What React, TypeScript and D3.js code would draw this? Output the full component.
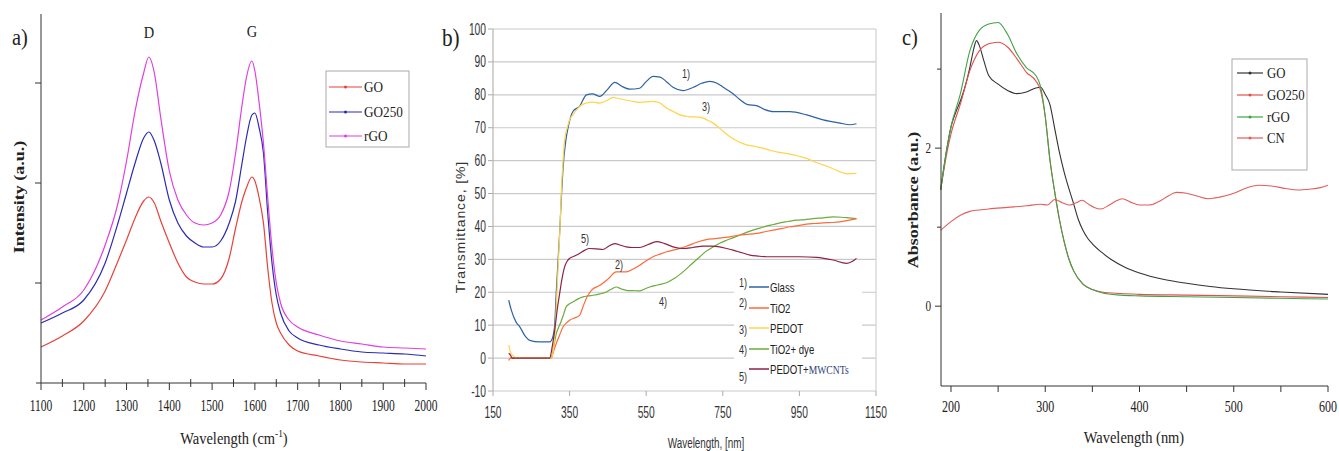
import React from 'react';
import * as d3 from 'd3';

const SERIF = '"Liberation Serif", "Times New Roman", serif';
const SANS = '"Liberation Sans", Arial, sans-serif';

// a) Raman spectra
const ramanShift = [1100, 1150, 1200, 1250, 1280, 1300, 1320, 1340, 1352, 1365, 1380, 1400, 1420, 1440, 1460, 1480, 1500, 1520, 1540, 1555, 1570, 1580, 1593, 1600, 1610, 1620, 1630, 1640, 1650, 1660, 1680, 1700, 1750, 1800, 1850, 1900, 1950, 2000];
const ramanGO = [0.36, 0.47, 0.62, 0.92, 1.22, 1.43, 1.65, 1.82, 1.86, 1.8, 1.62, 1.4, 1.2, 1.06, 1.01, 0.99, 0.99, 1.04, 1.25, 1.55, 1.82, 1.95, 2.06, 2.02, 1.85, 1.6, 1.15, 0.8, 0.6, 0.5, 0.38, 0.32, 0.27, 0.23, 0.21, 0.2, 0.19, 0.19];
const ramanGO250 = [0.6, 0.7, 0.83, 1.2, 1.6, 1.9, 2.2, 2.45, 2.51, 2.42, 2.2, 1.83, 1.6, 1.47, 1.4, 1.36, 1.36, 1.42, 1.6, 1.82, 2.2, 2.45, 2.68, 2.7, 2.55, 2.3, 1.7, 1.2, 0.88, 0.7, 0.52, 0.45, 0.38, 0.34, 0.31, 0.3, 0.29, 0.27];
const ramanRGO = [0.63, 0.76, 0.93, 1.38, 1.8, 2.22, 2.72, 3.1, 3.26, 3.1, 2.65, 2.12, 1.83, 1.68, 1.6, 1.58, 1.6, 1.68, 1.92, 2.3, 2.78, 3.05, 3.22, 3.12, 2.8, 2.4, 1.85, 1.35, 1.0, 0.8, 0.63, 0.56, 0.48, 0.42, 0.39, 0.36, 0.35, 0.34];
const ramanNames = ['GO', 'GO250', 'rGO'];
const ramanColors = ['#e6423a', '#2b2bb5', '#e03fe0'];

// b) transmittance
const glassX = [191, 198, 210, 220, 235, 246, 272, 298, 305, 311, 315, 320, 324, 329, 333, 340, 346, 352, 359, 376, 394, 410, 429, 448, 468, 488, 507, 533, 550, 568, 586, 603, 620, 646, 673, 695, 716, 735, 751, 775, 795, 815, 838, 860, 882, 925, 969, 1012, 1056, 1082, 1099];
const glassY = [17.6, 14.5, 11, 9.5, 6.5, 5.4, 4.9, 4.9, 6, 10, 19.6, 30, 38, 50, 58, 66, 70, 73, 75, 76.5, 80, 80.3, 79.5, 81.5, 83.8, 82.5, 81.7, 82, 84, 85.6, 85.4, 84, 82.3, 81.3, 82.3, 83.5, 84.1, 83.5, 82.3, 80.5, 78.5, 77, 76.7, 75.5, 74.9, 74.9, 73.9, 72.4, 71.4, 70.9, 71.2];
const tio2X = [191, 195, 302, 308, 315, 324, 333, 342, 350, 365, 376, 385, 395, 407, 429, 450, 472, 498, 515, 533, 550, 568, 586, 603, 620, 638, 655, 673, 690, 707, 730, 751, 775, 795, 815, 838, 860, 882, 905, 925, 950, 969, 990, 1012, 1035, 1056, 1080, 1099];
const tio2Y = [-0.7, 0, 0, 2, 4.4, 7, 9.5, 10.7, 11.5, 12.3, 13, 15.6, 18.5, 20.6, 22.1, 24, 26.2, 26.2, 27, 28.2, 29.6, 30.8, 31.6, 32.3, 32.8, 33.3, 34, 34.8, 35.5, 36, 36.3, 36.6, 37, 37.4, 37.6, 37.9, 38.4, 38.9, 39.4, 39.9, 40.3, 40.7, 40.9, 41.1, 41.2, 41.4, 41.9, 42.4];
const pedotX = [191, 195, 200, 205, 211, 302, 307, 311, 315, 320, 325, 329, 333, 337, 344, 350, 359, 368, 376, 394, 410, 429, 446, 464, 480, 507, 533, 568, 586, 603, 620, 638, 660, 690, 710, 725, 750, 768, 790, 812, 835, 855, 877, 899, 925, 950, 969, 990, 1012, 1035, 1056, 1075, 1099];
const pedotY = [4, 2, 1, 0.5, 0, 0, 2, 6.4, 15, 27.7, 40, 52, 60, 66.3, 70, 72.4, 74, 75.4, 76.5, 77.5, 77.8, 77.5, 78.2, 79.2, 78.8, 78.2, 77.7, 78, 77.5, 76, 75, 73.9, 73.4, 73.2, 72.3, 71.4, 69, 67.3, 65.8, 64.8, 64.3, 63.8, 63, 62.5, 62, 61.3, 60.7, 59.6, 58.7, 57.7, 56.6, 56, 56.1];
const dyeX = [195, 302, 308, 315, 322, 329, 335, 341, 350, 359, 372, 385, 398, 411, 429, 446, 460, 472, 485, 498, 515, 533, 546, 559, 580, 603, 625, 646, 668, 690, 707, 725, 742, 760, 778, 795, 812, 829, 847, 864, 882, 899, 920, 942, 965, 986, 1012, 1038, 1060, 1080, 1099];
const dyeY = [0, 0, 3, 7.4, 9.5, 11.5, 13.5, 15.6, 16.5, 17.1, 18, 18.6, 18.9, 19.1, 19.5, 20.1, 21, 21.6, 21, 20.6, 20.5, 20.4, 21, 21.6, 22.2, 22.9, 24.3, 26.2, 28.5, 30.8, 32.5, 33.8, 34.9, 35.8, 36.6, 37.4, 38.2, 38.9, 39.5, 40.1, 40.6, 41.1, 41.5, 41.9, 42.1, 42.4, 42.6, 42.9, 42.8, 42.6, 42.4];
const mwcntX = [191, 196, 200, 298, 304, 311, 318, 324, 330, 337, 344, 350, 363, 376, 390, 402, 420, 437, 452, 468, 483, 498, 515, 533, 555, 577, 598, 620, 646, 672, 699, 720, 742, 760, 777, 800, 821, 842, 864, 908, 951, 995, 1038, 1073, 1090, 1099];
const mwcntY = [1.5, 0.8, 0, 0, 3, 8.4, 15, 19.6, 24, 27.7, 29.5, 30.3, 31, 31.8, 32.8, 33.3, 33.2, 33, 34, 34.8, 34.3, 33.8, 33.6, 33.6, 34.5, 35.4, 34.8, 33.8, 33.3, 33.6, 34, 34, 33.8, 33.3, 32.8, 32, 31.3, 31, 30.8, 30.8, 30.8, 30.6, 29.8, 28.8, 29.5, 30.3];
const transNames = ['Glass', 'TiO2', 'PEDOT', 'TiO2+ dye', 'PEDOT+MWCNTs'];
const transColors = ['#2d62a6', '#ff6a3a', '#ffd44a', '#6cab3c', '#8c2344'];

// c) UV-vis absorbance
const goX = [189, 195, 200, 205, 210, 215, 220, 224, 227, 230, 235, 240, 250, 260, 270, 280, 290, 295, 300, 305, 310, 315, 320, 330, 335, 340, 345, 350, 360, 370, 385, 400, 425, 450, 475, 500, 550, 600];
const goY = [1.47, 1.95, 2.27, 2.45, 2.6, 2.78, 3.02, 3.25, 3.36, 3.3, 3.1, 2.92, 2.81, 2.73, 2.69, 2.71, 2.76, 2.77, 2.68, 2.55, 2.25, 1.95, 1.7, 1.3, 1.1, 0.96, 0.86, 0.79, 0.68, 0.59, 0.49, 0.42, 0.34, 0.29, 0.25, 0.22, 0.18, 0.15];
const redX = [189, 195, 200, 210, 220, 230, 240, 250, 260, 270, 280, 290, 295, 300, 305, 310, 315, 320, 325, 330, 340, 350, 360, 380, 400, 450, 500, 550, 600];
const go250Y = [1.47, 1.9, 2.18, 2.56, 2.98, 3.23, 3.32, 3.34, 3.28, 3.13, 2.96, 2.85, 2.73, 2.4, 1.85, 1.45, 1.1, 0.82, 0.6, 0.45, 0.28, 0.21, 0.18, 0.16, 0.15, 0.14, 0.13, 0.12, 0.11];
const rgoY = [1.47, 1.95, 2.27, 2.69, 3.23, 3.49, 3.57, 3.59, 3.44, 3.19, 3.02, 2.92, 2.78, 2.4, 1.85, 1.45, 1.1, 0.82, 0.6, 0.45, 0.28, 0.21, 0.17, 0.14, 0.13, 0.12, 0.11, 0.1, 0.09];
const cnX = [189, 200, 210, 220, 240, 260, 280, 295, 302, 310, 318, 326, 333, 339, 346, 352, 359, 368, 375, 382, 390, 400, 410, 420, 430, 439, 450, 462, 473, 485, 500, 512, 526, 540, 555, 568, 580, 592, 600];
const cnY = [0.96, 1.07, 1.15, 1.2, 1.23, 1.25, 1.27, 1.29, 1.28, 1.35, 1.31, 1.28, 1.31, 1.34, 1.29, 1.25, 1.23, 1.28, 1.33, 1.36, 1.32, 1.28, 1.28, 1.32, 1.39, 1.44, 1.43, 1.39, 1.36, 1.38, 1.43, 1.49, 1.53, 1.52, 1.49, 1.47, 1.48, 1.5, 1.53];
const absNames = ['GO', 'GO250', 'rGO', 'CN'];
const absColors = ['#333333', '#e2504c', '#3ea447', '#e35d5d'];

function Txt({ x, y, size, sx = 1, anchor = 'start', family = SERIF, weight = 'normal', rot = 0, fill = '#222', ls = 0, children }: any) {
  const t = rot
    ? `translate(${x},${y}) rotate(${rot}) scale(1,${sx})`
    : `translate(${x},${y}) scale(${sx},1)`;
  return (
    <text transform={t} fontSize={size} fontFamily={family} fontWeight={weight}
      textAnchor={anchor} fill={fill} letterSpacing={ls}>{children}</text>
  );
}

function pathOf(xs: number[], ys: number[], sx: any, sy: any) {
  return d3.line<number>()
    .x((_, i) => sx(xs[i]))
    .y(d => sy(d))
    .curve(d3.curveMonotoneX)(ys) || '';
}

function PanelA() {
  const x = d3.scaleLinear().domain([1100, 2000]).range([41, 426]);
  const y = d3.scaleLinear().domain([0, 3.69]).range([383, 14]);
  const series = [ramanGO, ramanGO250, ramanRGO];
  return (
    <g>
      {series.map((s, i) => (
        <path key={i} d={pathOf(ramanShift, s, x, y)} fill="none" stroke={ramanColors[i]} strokeWidth={1.2} />
      ))}
      <line x1={41} x2={41} y1={14} y2={383} stroke="#333" />
      <line x1={36} x2={426} y1={383} y2={383} stroke="#333" />
      {x.ticks(18).map(v => (
        <g key={v}>
          <line x1={x(v)} x2={x(v)} y1={v % 100 === 0 ? 383 : 379} y2={v % 100 === 0 ? 390 : 387} stroke="#333" />
          {v % 100 === 0 && <Txt x={x(v)} y={411} size={16} sx={0.72} anchor="middle">{v}</Txt>}
        </g>
      ))}
      {[1, 2, 3].map(v => (
        <line key={v} x1={35} x2={41} y1={y(v)} y2={y(v)} stroke="#333" />
      ))}
      <Txt x={234} y={444} size={17} sx={0.85} anchor="middle">
        Wavelength (cm<tspan dy={-7} fontSize={11}>-1</tspan><tspan dy={7}>)</tspan>
      </Txt>
      <Txt x={24} y={197} size={18} rot={-90} sx={0.8} anchor="middle" weight="bold">Intensity (a.u.)</Txt>
      <Txt x={149} y={38} size={17} sx={0.85} anchor="middle">D</Txt>
      <Txt x={252} y={37} size={17} sx={0.85} anchor="middle">G</Txt>
      <Txt x={12} y={45} size={24} sx={0.85}>a)</Txt>
      <rect x={326} y={71} width={83} height={76} fill="#fff" stroke="#aaa" />
      {ramanNames.map((n, i) => {
        const ly = [87, 112, 136][i];
        return (
          <g key={n}>
            <line x1={329} x2={362} y1={ly} y2={ly} stroke={ramanColors[i]} strokeWidth={1.2} />
            <circle cx={345.5} cy={ly} r={1.5} fill={ramanColors[i]} />
            <Txt x={364} y={ly + 5} size={15} sx={0.88}>{n}</Txt>
          </g>
        );
      })}
    </g>
  );
}

function PanelB() {
  const x = d3.scaleLinear().domain([150, 1150]).range([493, 876]);
  const y = d3.scaleLinear().domain([-10, 100]).range([391, 29]);
  const xs = [glassX, tio2X, pedotX, dyeX, mwcntX];
  const ys = [glassY, tio2Y, pedotY, dyeY, mwcntY];
  const order = [0, 3, 1, 2, 4];
  const notes = [
    { t: '1)', px: 686, py: 78 },
    { t: '3)', px: 706, py: 111 },
    { t: '5)', px: 585, py: 243 },
    { t: '2)', px: 619, py: 269 },
    { t: '4)', px: 663, py: 306 },
  ];
  return (
    <g>
      {y.ticks(11).map(v => (
        <g key={v}>
          <line x1={493} x2={876} y1={y(v)} y2={y(v)} stroke="#c9c9c9" strokeWidth={1.2} />
          <line x1={488} x2={493} y1={y(v)} y2={y(v)} stroke="#aaa" />
          <Txt x={486} y={y(v) + 5.5} size={16} sx={0.64} anchor="end" family={SANS} fill="#333">{v}</Txt>
        </g>
      ))}
      <line x1={493} x2={493} y1={29} y2={391} stroke="#b5b5b5" strokeWidth={1.2} />
      <line x1={876} x2={876} y1={29} y2={391} stroke="#d0d0d0" strokeWidth={1.2} />
      {d3.range(150, 1151, 200).map(v => (
        <g key={v}>
          <line x1={x(v)} x2={x(v)} y1={391} y2={396} stroke="#aaa" />
          <Txt x={x(v)} y={418} size={16} sx={0.64} anchor="middle" family={SANS} fill="#333">{v}</Txt>
        </g>
      ))}
      {order.map(i => (
        <path key={i} d={pathOf(xs[i], ys[i], x, y)} fill="none" stroke={transColors[i]} strokeWidth={1.2} />
      ))}
      {notes.map(n => (
        <Txt key={n.t} x={n.px} y={n.py} size={13} sx={0.7} anchor="middle" family={SANS} fill="#333">{n.t}</Txt>
      ))}
      <rect x={734} y={271} width={128} height={116} fill="#fff" />
      {transNames.map((n, i) => {
        const ly = [287, 308, 328, 349, 369][i];
        const ny = [287, 307, 334, 354, 381][i];
        return (
          <g key={n}>
            <Txt x={743} y={ny} size={13} sx={0.7} anchor="middle" family={SANS} fill="#333">{`${i + 1})`}</Txt>
            <line x1={749} x2={769} y1={ly} y2={ly} stroke={transColors[i]} strokeWidth={1.5} />
            <Txt x={770} y={ly + 5} size={13} sx={0.74} family={SANS} fill="#222">
              {n === 'PEDOT+MWCNTs' ? (<>PEDOT+<tspan fontFamily={SERIF} fill="#2c3e78">MWCNTs</tspan></>) : n}
            </Txt>
          </g>
        );
      })}
      <Txt x={465} y={227} size={14} rot={-90} sx={0.85} anchor="middle" family={SANS} fill="#333" ls={0.9}>Transmittance, [%]</Txt>
      <Txt x={706} y={448} size={15} sx={0.66} anchor="middle" family={SANS} fill="#333">Wavelength, [nm]</Txt>
      <Txt x={442} y={46} size={25} sx={0.85}>b)</Txt>
    </g>
  );
}

function PanelC() {
  const x = d3.scaleLinear().domain([189.4, 600]).range([941, 1328]);
  const y = d3.scaleLinear().domain([-1.01, 3.71]).range([386, 13]);
  const xs = [goX, redX, redX, cnX];
  const ys = [goY, go250Y, rgoY, cnY];
  return (
    <g>
      {[0, 1, 2, 3].map(i => (
        <path key={i} d={pathOf(xs[i], ys[i], x, y)} fill="none" stroke={absColors[i]} strokeWidth={1.1} />
      ))}
      <line x1={941} x2={941} y1={13} y2={386} stroke="#333" />
      <line x1={941} x2={1328} y1={386} y2={386} stroke="#333" />
      {d3.range(200, 601, 50).map(v => (
        <g key={v}>
          <line x1={x(v)} x2={x(v)} y1={386} y2={392} stroke="#333" />
          {v % 100 === 0 && <Txt x={x(v)} y={412} size={16} sx={0.75} anchor="middle">{v}</Txt>}
        </g>
      ))}
      {[1, 3].map(v => (
        <line key={v} x1={937} x2={941} y1={y(v)} y2={y(v)} stroke="#333" />
      ))}
      {[0, 2].map(v => (
        <g key={v}>
          <line x1={935} x2={941} y1={y(v)} y2={y(v)} stroke="#333" />
          <Txt x={931} y={y(v) + 5} size={14} sx={0.8} anchor="end">{v}</Txt>
        </g>
      ))}
      <Txt x={918} y={200} size={18} rot={-90} sx={0.8} anchor="middle" weight="bold">Absorbance (a.u.)</Txt>
      <Txt x={1134} y={443} size={17} sx={0.85} anchor="middle">Wavelength (nm)</Txt>
      <Txt x={902} y={45} size={24} sx={0.85}>c)</Txt>
      <rect x={1232} y={59} width={75} height={111} fill="#fff" stroke="#aaa" />
      {absNames.map((n, i) => {
        const ly = [73, 95, 117, 138][i];
        return (
          <g key={n}>
            <line x1={1237} x2={1263} y1={ly} y2={ly} stroke={absColors[i]} strokeWidth={1.2} />
            <circle cx={1250} cy={ly} r={1.5} fill={absColors[i]} />
            <Txt x={1267} y={ly + 5} size={15} sx={0.85}>{n}</Txt>
          </g>
        );
      })}
    </g>
  );
}

export default function App() {
  return (
    <svg width={1339} height={451} style={{ position: 'absolute', left: 0, top: 0, background: '#fff' }}>
      <rect width={1339} height={451} fill="#fff" />
      <PanelA />
      <PanelB />
      <PanelC />
    </svg>
  );
}
